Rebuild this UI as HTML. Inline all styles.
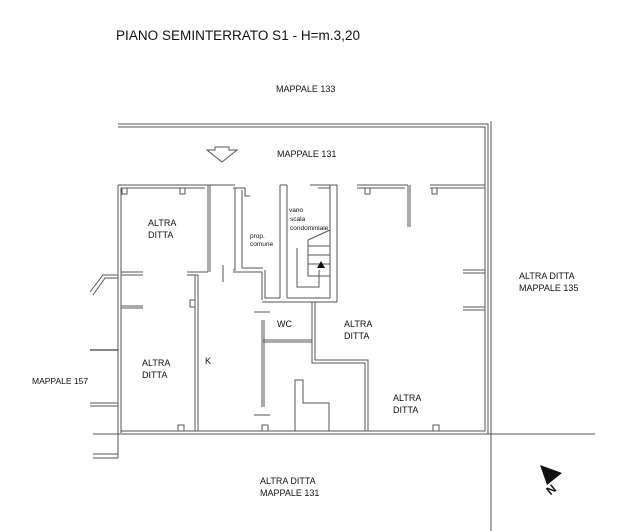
<!DOCTYPE html>
<html><head><meta charset="utf-8"><style>
html,body{margin:0;padding:0;background:#fff;}
svg{display:block}
text{font-family:"Liberation Sans",sans-serif;fill:#111}
</style></head><body>
<svg width="627" height="531" viewBox="0 0 627 531" xmlns="http://www.w3.org/2000/svg">
<g fill="none" stroke="#555" stroke-width="1">
<polyline points="118,124 488,124 488,185"/>
<polyline points="118,127 485,127 485,185"/>
<line x1="491" y1="121" x2="491" y2="531"/>
<polyline points="118,185 208,185"/>
<polyline points="121,188 205,188"/>
<line x1="118" y1="185" x2="118" y2="458"/>
<line x1="121" y1="188" x2="121" y2="433"/>
<polyline points="118,458 93,458"/>
<polyline points="118,454 93,454"/>
<line x1="93" y1="434" x2="595" y2="434"/>
<line x1="121" y1="431" x2="485" y2="431"/>
<line x1="485" y1="185" x2="485" y2="431"/>
<line x1="488" y1="185" x2="488" y2="434"/>
<polyline points="208,185 235,185"/>
<polyline points="233,188 245,188 245,196 250,196"/>
<polyline points="280,185 287,185"/>
<polyline points="310,185 337,185"/>
<polyline points="318,188 330,188"/>
<polyline points="357,185 408,185"/>
<polyline points="357,188 405,188"/>
<polyline points="430,185 485,185"/>
<polyline points="430,188 485,188"/>
<rect x="122" y="188" width="5" height="6"/>
<rect x="180" y="188" width="5" height="6"/>
<rect x="365" y="188" width="5" height="6"/>
<rect x="432" y="188" width="5" height="6"/>
<line x1="208" y1="185" x2="208" y2="272"/>
<line x1="210" y1="185" x2="210" y2="272"/>
<polyline points="121,272 143,272"/>
<polyline points="121,275 143,275"/>
<polyline points="187,272 208,272"/>
<polyline points="187,275 198,275"/>
<polyline points="121,306 143,306"/>
<polyline points="121,308 143,308"/>
<line x1="195" y1="275" x2="195" y2="431"/>
<line x1="198" y1="275" x2="198" y2="431"/>
<rect x="190" y="300" width="5" height="7"/>
<line x1="223" y1="265" x2="223" y2="282"/>
<polyline points="235,188 235,270 233,270"/>
<polyline points="242,190 242,268 263,268"/>
<polyline points="233,272 262,272 262,300"/>
<polyline points="265,270 265,298 280,298"/>
<line x1="280" y1="185" x2="280" y2="298"/>
<line x1="287" y1="185" x2="287" y2="298"/>
<line x1="330" y1="185" x2="330" y2="298"/>
<line x1="337" y1="185" x2="337" y2="302"/>
<polyline points="262,302 337,302"/>
<polyline points="287,298 330,298"/>
<polyline points="308,240 330,230"/>
<polyline points="308,240 308,276 330,276"/>
<line x1="308" y1="246" x2="330" y2="246"/>
<line x1="308" y1="255" x2="330" y2="255"/>
<line x1="308" y1="264" x2="330" y2="264"/>
<polyline points="297,248 297,287 319,287 319,270"/>
<line x1="254" y1="312" x2="270" y2="312"/>
<line x1="254" y1="415" x2="270" y2="415"/>
<line x1="262" y1="320" x2="262" y2="407"/>
<line x1="264" y1="320" x2="264" y2="407"/>
<polyline points="263,340 312,340"/>
<polyline points="263,342 312,342"/>
<polyline points="312,302 312,363 365,363 365,431"/>
<polyline points="315,302 315,360 368,360 368,431"/>
<polyline points="295,431 295,380 303,380 303,403 329,403 329,431"/>
<line x1="408" y1="185" x2="408" y2="227"/>
<line x1="410" y1="185" x2="410" y2="227"/>
<line x1="463" y1="270" x2="485" y2="270"/>
<line x1="463" y1="273" x2="485" y2="273"/>
<line x1="463" y1="307" x2="485" y2="307"/>
<line x1="463" y1="310" x2="485" y2="310"/>
<rect x="178" y="425" width="6" height="6"/>
<rect x="262" y="425" width="6" height="6"/>
<rect x="433" y="425" width="6" height="6"/>
<polyline points="90,292 103,275 118,275"/>
<polyline points="93,295 105,278 118,278"/>
<line x1="90" y1="350" x2="118" y2="350" stroke="#111"/>
<line x1="90" y1="403" x2="118" y2="403"/>
<line x1="90" y1="406" x2="118" y2="406"/>
<polygon points="207,150 215,150 215,147 229,147 229,150 237,150 222,162"/>
</g>
<polygon points="317,268 321,261 325,268" fill="#111"/>
<polygon points="540,465 562,473 547,485" fill="#111"/>
<text x="547" y="494" font-size="12" font-weight="bold" font-family="Liberation Serif" transform="rotate(-40 551 490)">N</text>
<text x="116" y="40" font-size="13.5" textLength="244">PIANO SEMINTERRATO S1 - H=m.3,20</text>
<g font-size="9">
<text x="276" y="92">MAPPALE 133</text>
<text x="277" y="157">MAPPALE 131</text>
<text x="148" y="226">ALTRA</text><text x="148" y="238">DITTA</text>
<text x="142" y="366">ALTRA</text><text x="142" y="378">DITTA</text>
<text x="205" y="364">K</text>
<text x="277" y="327">WC</text>
<text x="344" y="327">ALTRA</text><text x="344" y="339">DITTA</text>
<text x="393" y="401">ALTRA</text><text x="393" y="413">DITTA</text>
<text x="519" y="279">ALTRA DITTA</text>
<text x="519" y="291">MAPPALE 135</text>
<text x="260" y="484">ALTRA DITTA</text>
<text x="260" y="496">MAPPALE 131</text>
<text x="32" y="384" font-size="8.5">MAPPALE 157</text>
</g>
<g font-size="6.5">
<text x="250" y="238">prop.</text><text x="250" y="246">comune</text>
<text x="289" y="212">vano</text><text x="290" y="221">scala</text><text x="290" y="230">condominiale</text>
</g>
</svg>
</body></html>
